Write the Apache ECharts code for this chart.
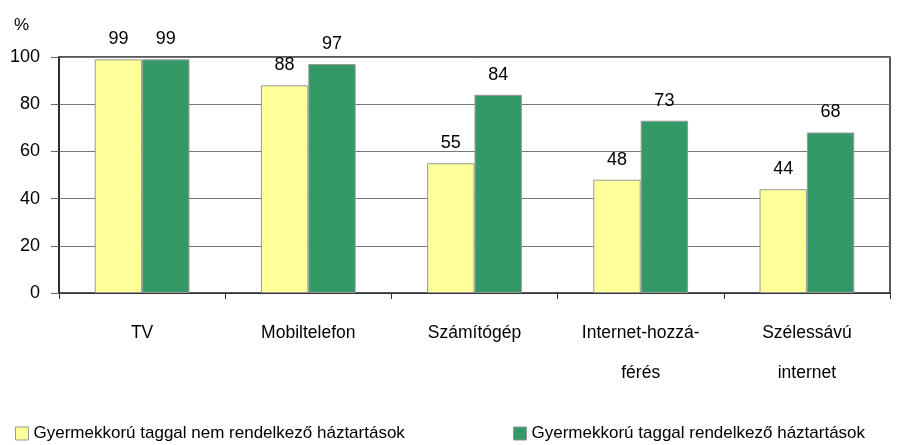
<!DOCTYPE html>
<html>
<head>
<meta charset="utf-8">
<script src="https://cdn.jsdelivr.net/npm/echarts@6/dist/echarts.min.js"></script>
<style>
html,body{margin:0;padding:0;background:#fff;}
#chart{width:898px;height:445px;}
</style>
</head>
<body>
<div id="chart"></div>
<script>
const categories = ['TV', 'Mobiltelefon', 'Számítógép', 'Internet-hozzá-\nférés', 'Szélessávú\ninternet'];
const seriesNames = ['Gyermekkorú taggal nem rendelkező háztartások', 'Gyermekkorú taggal rendelkező háztartások'];
const noChild = [99, 88, 55, 48, 44];
const withChild = [99, 97, 84, 73, 68];
const yTicks = [0, 20, 40, 60, 80, 100];

const FONT = "'Liberation Sans', Arial, sans-serif";
const chart = echarts.init(document.getElementById('chart'));
const labelStyle = {show: true, position: 'top', distance: 11, color: '#000', fontSize: 18, fontFamily: FONT};
chart.setOption({
  animation: false,
  grid: {left: 59, right: 8, top: 57, bottom: 152, show: true, borderColor: '#222', borderWidth: 1.5, backgroundColor: 'transparent'},
  legend: [
    {data: [seriesNames[0]], left: 10, top: 420, itemWidth: 13, itemHeight: 13, icon: 'rect', itemGap: 5,
     textStyle: {fontFamily: FONT, fontSize: 17, color: '#000'}, itemStyle: {borderColor: '#999', borderWidth: 1}},
    {data: [seriesNames[1]], left: 508, top: 420, itemWidth: 13, itemHeight: 13, icon: 'rect', itemGap: 5,
     textStyle: {fontFamily: FONT, fontSize: 17, color: '#000'}, itemStyle: {borderColor: '#999', borderWidth: 1}}
  ],
  graphic: [{type: 'text', left: 14, top: 17, style: {text: '%', font: '17px ' + FONT, fill: '#000'}}],
  xAxis: {
    type: 'category', data: categories,
    axisLine: {lineStyle: {color: '#333', width: 1}},
    axisTick: {show: true, length: 6, lineStyle: {color: '#333'}},
    axisLabel: {color: '#000', fontSize: 17.5, fontFamily: FONT, lineHeight: 40, margin: 20, interval: 0}
  },
  yAxis: {
    type: 'value', min: 0, max: 100, interval: 20,
    axisLine: {show: true, lineStyle: {color: '#222', width: 1.5}},
    axisTick: {show: true, length: 8, lineStyle: {color: '#666'}},
    axisLabel: {color: '#000', fontSize: 18, fontFamily: FONT, margin: 19, padding: [0, 0, 5, 0],
      formatter: v => yTicks.includes(v) ? String(v) : ''},
    splitLine: {show: true, lineStyle: {color: '#777', width: 1}}
  },
  series: [
    {name: seriesNames[0], type: 'bar', data: noChild, barGap: '0%', barCategoryGap: '43%',
     itemStyle: {color: '#FFFF99', borderColor: '#999', borderWidth: 1}, label: labelStyle},
    {name: seriesNames[1], type: 'bar', data: withChild, barGap: '0%', barCategoryGap: '43%',
     itemStyle: {color: '#339966', borderColor: '#999', borderWidth: 1}, label: labelStyle}
  ]
});
</script>
</body>
</html>
